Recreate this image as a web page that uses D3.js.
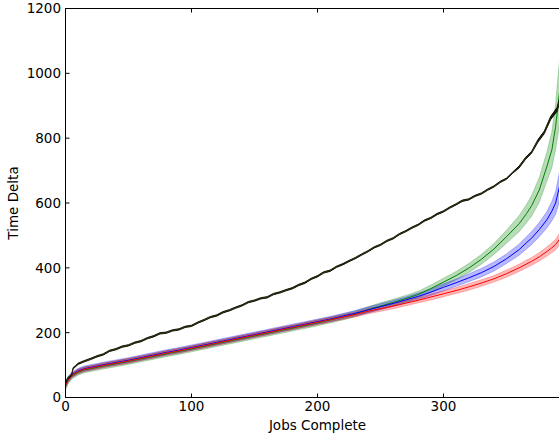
<!DOCTYPE html>
<html>
<head>
<meta charset="utf-8">
<script src="https://cdn.jsdelivr.net/npm/d3@7.9.0/dist/d3.min.js"></script>
<style>
  html, body { margin: 0; padding: 0; background: #fff; overflow: hidden; }
  svg { display: block; font-family: "DejaVu Sans", sans-serif; }
</style>
</head>
<body>
<svg id="chart"></svg>
<script>
// jobs at which the averaged runs were sampled
const jobs = [0, 2, 5, 10, 15, 20, 30, 40, 50, 60, 70, 80, 90, 100, 110, 120, 130, 140, 150, 160,
  170, 180, 190, 200, 210, 220, 230, 240, 250, 260, 270, 280, 290, 300, 310, 320, 330, 340, 350, 360,
  366, 370, 376, 382, 386, 389, 392, 395];

const greenMean = [35, 52, 66, 78, 85, 89, 97, 104, 111, 119, 127, 135, 142, 150, 158, 166, 174, 182, 190, 198,
  206, 214, 222, 230, 239, 248, 258, 271, 282, 293, 305, 318, 336, 356, 376, 399, 426, 458, 496, 536,
  568, 592, 640, 712, 764, 836, 940, 1010];
const greenErr = [12, 10, 9, 9, 9, 9, 9, 9, 9, 9, 9, 9, 9, 9, 9, 9, 9, 9, 9, 9,
  9, 9, 9, 9, 9, 9, 9, 9, 10, 10, 10, 10, 11, 12, 13, 14, 15, 17, 20, 25,
  28, 32, 38, 45, 55, 70, 100, 120];

const blueMean = [40, 56, 70, 82, 89, 93, 101, 108, 115, 123, 131, 139, 146, 154, 162, 170, 178, 186, 194, 202,
  210, 218, 226, 234, 242, 251, 260, 270, 280, 290, 301, 312, 325, 340, 354, 369, 385, 404, 428, 456,
  478, 492, 518, 548, 575, 600, 650, 710];
const blueErr = [10, 9, 8, 8, 8, 8, 8, 8, 8, 8, 8, 8, 8, 8, 8, 8, 8, 8, 8, 8,
  8, 8, 8, 8, 8, 8, 8, 9, 9, 9, 9, 10, 10, 11, 11, 12, 13, 14, 15, 17,
  19, 20, 22, 25, 30, 35, 45, 55];

const redMean = [38, 54, 68, 80, 87, 91, 99, 106, 113, 121, 129, 137, 144, 152, 160, 168, 176, 184, 192, 200,
  208, 216, 224, 232, 240, 248, 256, 266, 274, 282, 291, 300, 310, 320, 330, 341, 353, 366, 382, 400,
  412, 420, 434, 450, 462, 472, 488, 505];
const redErr = [9, 8, 7, 7, 7, 7, 7, 7, 7, 7, 7, 7, 7, 7, 7, 7, 7, 7, 7, 7,
  7, 7, 7, 7, 7, 7, 7, 8, 8, 8, 8, 8, 9, 9, 9, 10, 10, 10, 11, 11,
  12, 12, 13, 14, 15, 16, 18, 20];

// the jagged baseline run
const baseJobs = [0, 2, 4, 5, 6, 8, 10, 15, 20, 25, 30, 35, 40, 45, 50, 55, 60, 65, 70, 75,
  80, 85, 90, 95, 100, 105, 110, 115, 120, 125, 130, 135, 140, 145, 150, 155, 160, 165, 170, 175,
  180, 185, 190, 195, 200, 205, 210, 215, 220, 225, 230, 235, 240, 245, 250, 255, 260, 265, 270, 275,
  280, 285, 290, 295, 300, 305, 310, 315, 320, 325, 330, 335, 340, 345, 350, 355, 360, 365, 370, 375,
  380, 385, 390, 393];
const baseMean = [45, 60, 66, 72, 90, 97, 104, 112, 119, 127, 133, 144, 149, 157, 161, 169, 174, 183, 189, 198,
  200, 207, 210, 218, 221, 231, 239, 248, 253, 263, 269, 277, 284, 294, 299, 306, 309, 319, 324, 331,
  337, 347, 354, 366, 374, 386, 391, 403, 411, 421, 430, 441, 451, 463, 471, 483, 491, 504, 513, 524,
  533, 546, 554, 566, 574, 586, 596, 607, 611, 622, 629, 641, 651, 665, 675, 694, 711, 737, 757, 792,
  818, 862, 888, 925];
const baseErr = [2, 2, 2, 2, 2, 2, 2, 2, 2, 2, 2, 2, 2, 2, 2, 2, 2, 2, 2, 2,
  2, 2, 2, 2, 2, 2, 2, 2, 2, 2, 2, 2, 2, 2, 2, 2, 2, 2, 2, 2,
  2, 2, 2, 2, 2, 2, 2, 2, 2, 2, 2, 2, 2, 2, 2, 2, 2, 2, 2, 2,
  2, 2, 2, 2, 2, 2, 2, 2, 2, 2, 2, 2, 2, 2, 2, 2, 3, 3, 3, 4,
  4, 5, 6, 7];

const xTicks = [0, 100, 200, 300];
const yTicks = [0, 200, 400, 600, 800, 1000, 1200];

const W = 559, H = 438;
const plotL = 65.5, plotR = 569.5, plotT = 8.5, plotB = 397.5;

const svg = d3.select("#chart").attr("width", W).attr("height", H);

const x = d3.scaleLinear().domain([0, 400]).range([plotL, plotR]);
const y = d3.scaleLinear().domain([0, 1200]).range([plotB, plotT]);

svg.append("defs").append("clipPath").attr("id", "plot")
  .append("rect").attr("x", plotL).attr("y", plotT)
  .attr("width", plotR - plotL).attr("height", plotB - plotT);

const plot = svg.append("g").attr("clip-path", "url(#plot)");

function rows(xs, mean, err) {
  return xs.map((v, i) => ({ x: v, m: mean[i], e: err[i] }));
}

const series = [
  { d: rows(jobs, greenMean, greenErr), color: "#008000" },
  { d: rows(jobs, blueMean, blueErr), color: "#0000ff" },
  { d: rows(jobs, redMean, redErr), color: "#ff0000" },
];

const area = d3.area()
  .x(d => x(d.x))
  .y0(d => y(d.m - d.e))
  .y1(d => y(d.m + d.e));

const line = d3.line()
  .x(d => x(d.x))
  .y(d => y(d.m));

series.forEach(s => {
  plot.append("path")
    .datum(s.d)
    .attr("d", area)
    .attr("fill", s.color)
    .attr("fill-opacity", 0.28)
    .attr("stroke", s.color)
    .attr("stroke-opacity", 0.25)
    .attr("stroke-width", 1);
});

series.forEach(s => {
  plot.append("path")
    .datum(s.d)
    .attr("d", line)
    .attr("fill", "none")
    .attr("stroke", s.color)
    .attr("stroke-width", 1);
});

const base = rows(baseJobs, baseMean, baseErr);
plot.append("path")
  .datum(base)
  .attr("d", area)
  .attr("fill", "#000")
  .attr("stroke", "#000")
  .attr("stroke-width", 0.9);
plot.append("path")
  .datum(base)
  .attr("d", line)
  .attr("fill", "none")
  .attr("stroke", "#bfbf00")
  .attr("stroke-opacity", 0.6)
  .attr("stroke-width", 0.4);

// frame
const frame = svg.append("g").attr("stroke", "#000").attr("stroke-width", 1);
frame.append("line").attr("x1", plotL).attr("x2", plotL).attr("y1", plotT).attr("y2", plotB);
frame.append("line").attr("x1", plotR).attr("x2", plotR).attr("y1", plotT).attr("y2", plotB);
frame.append("line").attr("x1", plotL).attr("x2", plotR).attr("y1", plotT).attr("y2", plotT);
frame.append("line").attr("x1", plotL).attr("x2", plotR).attr("y1", plotB).attr("y2", plotB);

// inward ticks on all four sides
const tk = 4;
xTicks.forEach(t => {
  frame.append("line").attr("x1", x(t)).attr("x2", x(t)).attr("y1", plotB).attr("y2", plotB - tk);
  frame.append("line").attr("x1", x(t)).attr("x2", x(t)).attr("y1", plotT).attr("y2", plotT + tk);
});
yTicks.forEach(t => {
  frame.append("line").attr("x1", plotL).attr("x2", plotL + tk).attr("y1", y(t)).attr("y2", y(t));
  frame.append("line").attr("x1", plotR).attr("x2", plotR - tk).attr("y1", y(t)).attr("y2", y(t));
});

svg.append("g").selectAll("text").data(xTicks).join("text")
  .attr("x", d => x(d))
  .attr("y", 411)
  .attr("text-anchor", "middle")
  .attr("font-size", 13.5)
  .text(d => d);

svg.append("g").selectAll("text").data(yTicks).join("text")
  .attr("x", 61)
  .attr("y", d => y(d))
  .attr("dy", "0.36em")
  .attr("text-anchor", "end")
  .attr("font-size", 13.5)
  .text(d => d);

svg.append("text")
  .attr("x", (plotL + plotR) / 2)
  .attr("y", 430)
  .attr("text-anchor", "middle")
  .attr("font-size", 13.5)
  .text("Jobs Complete");

svg.append("text")
  .attr("transform", `translate(18,${(plotT + plotB) / 2}) rotate(-90)`)
  .attr("text-anchor", "middle")
  .attr("font-size", 13.5)
  .text("Time Delta");
</script>
</body>
</html>
